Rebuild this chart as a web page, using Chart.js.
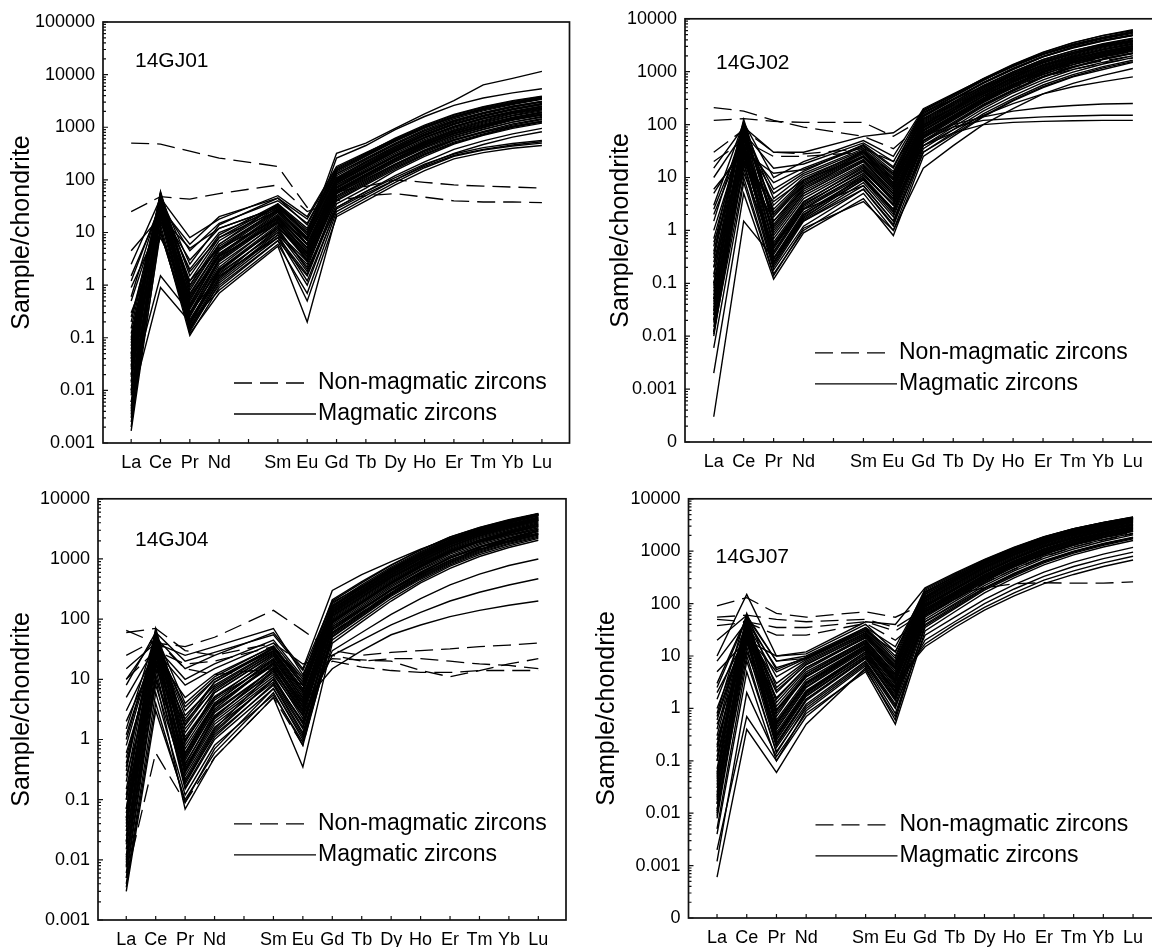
<!DOCTYPE html>
<html>
<head>
<meta charset="utf-8">
<script src="https://cdn.jsdelivr.net/npm/chart.js@4.4.0/dist/chart.umd.min.js"></script>
<style>
  html, body { margin: 0; padding: 0; background: #fff; width: 1152px; height: 947px; overflow: hidden; position: relative; }
  canvas { position: absolute; }
</style>
</head>
<body>
<canvas id="c1" width="580" height="478" style="left:0;top:0"></canvas>
<canvas id="c2" width="600" height="478" style="left:580px;top:0"></canvas>
<canvas id="c3" width="580" height="467" style="left:0;top:480px"></canvas>
<canvas id="c4" width="600" height="467" style="left:580px;top:480px"></canvas>
<script>
// REE order (Pm skipped, so x = atomic number)
const ree = ["La", "Ce", "Pr", "Nd", "Sm", "Eu", "Gd", "Tb", "Dy", "Ho", "Er", "Tm", "Yb", "Lu"];
const reePos = [57, 58, 59, 60, 62, 63, 64, 65, 66, 67, 68, 69, 70, 71];
const xTickPos = [57, 58, 59, 60, 61, 62, 63, 64, 65, 66, 67, 68, 69, 70, 71];

const sampleNames = ["14GJ01", "14GJ02", "14GJ04", "14GJ07"];
const legendLabels = ["Non-magmatic zircons", "Magmatic zircons"];
const yTitle = "Sample/chondrite";

const yTicksA = [0.001, 0.01, 0.1, 1, 10, 100, 1000, 10000, 100000];
const yLabelsA = ["0.001", "0.01", "0.1", "1", "10", "100", "1000", "10000", "100000"];
const yTicksB = [0.0001, 0.001, 0.01, 0.1, 1, 10, 100, 1000, 10000];
const yLabelsB = ["0", "0.001", "0.01", "0.1", "1", "10", "100", "1000", "10000"];
const yTicksC = [0.001, 0.01, 0.1, 1, 10, 100, 1000, 10000];
const yLabelsC = ["0.001", "0.01", "0.1", "1", "10", "100", "1000", "10000"];

// 14GJ01
const gj01Magmatic = [
  [0.002, 25, 0.15, 1.2, 9, 2.5, 45, 90, 180, 330, 560, 800, 1100, 1400],
  [0.0017, 12, 0.11, 0.9, 7, 1.5, 35, 70, 150, 280, 480, 700, 950, 1200],
  [0.005, 40, 0.2, 2.0, 14, 4, 60, 120, 240, 430, 700, 1000, 1400, 1700],
  [0.01, 50, 0.3, 3, 18, 5, 75, 150, 300, 550, 900, 1300, 1800, 2200],
  [0.02, 30, 0.25, 2.5, 15, 3.5, 65, 130, 260, 470, 780, 1100, 1500, 1900],
  [0.008, 20, 0.18, 1.6, 11, 2.2, 50, 100, 200, 370, 620, 900, 1250, 1550],
  [0.03, 55, 0.4, 4, 22, 6, 90, 180, 360, 650, 1050, 1500, 2000, 2500],
  [0.05, 45, 0.5, 4.5, 25, 7, 100, 200, 400, 720, 1150, 1650, 2200, 2800],
  [0.004, 18, 0.14, 1.3, 10, 1.8, 40, 80, 160, 300, 500, 720, 1000, 1250],
  [0.015, 35, 0.35, 3.2, 20, 4.5, 80, 160, 320, 580, 950, 1350, 1850, 2300],
  [0.06, 60, 0.8, 6, 30, 9, 120, 240, 470, 850, 1350, 1900, 2500, 3100],
  [0.08, 40, 1.0, 7, 32, 10, 130, 260, 500, 900, 1450, 2050, 2700, 3400],
  [0.1, 50, 1.5, 9, 35, 12, 150, 300, 560, 1000, 1600, 2300, 3000, 3700],
  [0.25, 30, 2, 10, 28, 8, 110, 220, 430, 780, 1250, 1800, 2400, 3000],
  [0.5, 25, 3, 12, 30, 6, 95, 190, 380, 700, 1150, 1650, 2200, 2700],
  [1.2, 35, 4.5, 15, 40, 15, 160, 310, 580, 1000, 1600, 2200, 2900, 3600],
  [2.5, 45, 8, 18, 50, 20, 180, 330, 600, 1050, 1700, 2400, 3100, 3800],
  [4.5, 20, 5, 12, 30, 10, 130, 250, 480, 850, 1350, 1900, 2500, 3100],
  [0.9, 15, 1.2, 5, 18, 4, 70, 140, 280, 500, 820, 1150, 1550, 1950],
  [0.3, 8, 0.6, 3.5, 15, 3, 55, 110, 220, 400, 650, 920, 1250, 1600],
  [0.012, 1.5, 0.3, 1.5, 8, 1, 30, 60, 120, 220, 380, 550, 750, 950],
  [0.006, 0.9, 0.2, 0.8, 6, 0.7, 25, 50, 100, 190, 320, 470, 650, 820],
  [0.04, 10, 0.15, 1.0, 7, 0.5, 20, 40, 80, 150, 250, 330, 400, 450],
  [0.003, 28, 0.12, 0.7, 5.5, 0.2, 22, 45, 90, 170, 280, 370, 440, 500],
  [0.02, 38, 0.3, 2, 12, 2, 30, 60, 110, 200, 310, 410, 490, 560],
  [0.01, 22, 0.2, 1.4, 9, 1.2, 28, 55, 100, 180, 290, 380, 460, 530],
  [0.05, 50, 0.7, 5, 28, 7, 260, 450, 900, 1600, 2600, 3600, 4500, 5400],
  [0.15, 55, 1, 6, 35, 9, 320, 500, 950, 1800, 3200, 6400, 8500, 11500],
  [0.07, 42, 0.45, 3.8, 24, 6, 85, 170, 340, 620, 1000, 1450, 1950, 2450],
  [0.025, 32, 0.28, 2.8, 17, 4.2, 70, 140, 280, 510, 840, 1200, 1650, 2050],
  [0.009, 24, 0.17, 1.8, 13, 3, 58, 115, 230, 420, 690, 980, 1350, 1700],
  [0.0035, 14, 0.13, 1.1, 8, 1.6, 42, 85, 170, 310, 520, 750, 1020, 1300],
  [0.2, 48, 2.5, 14, 45, 18, 170, 320, 620, 1100, 1750, 2450, 3200, 3900],
  [0.035, 26, 0.6, 4, 20, 5, 80, 150, 280, 480, 760, 1050, 1400, 1750],
  [0.6, 40, 1.8, 8, 26, 8, 100, 190, 360, 640, 1020, 1450, 1900, 2350],
  [0.018, 36, 0.22, 1.7, 10, 2.8, 48, 95, 190, 350, 580, 830, 1150, 1450],
  [1.5, 30, 6, 20, 45, 14, 150, 290, 550, 980, 1550, 2150, 2800, 3500],
  [0.0025, 10, 0.16, 1.4, 12, 3.8, 62, 125, 250, 450, 740, 1050, 1450, 1800],
  [0.045, 52, 0.9, 5.5, 27, 8, 105, 210, 410, 740, 1200, 1700, 2250, 2850],
  [0.12, 44, 0.55, 3.5, 16, 2.8, 55, 105, 200, 360, 580, 800, 1050, 1300],
  [0.006, 33, 0.26, 2.2, 16, 4, 72, 145, 290, 530, 870, 1250, 1700, 2150],
  [0.014, 46, 0.38, 3, 19, 5.2, 88, 175, 350, 630, 1030, 1480, 2000, 2500],
  [0.028, 58, 0.65, 4.8, 26, 7.5, 110, 225, 440, 800, 1300, 1850, 2450, 3050],
  [0.0045, 27, 0.19, 1.9, 13, 3.3, 62, 125, 250, 460, 760, 1090, 1500, 1880],
  [0.09, 36, 1.2, 8, 33, 11, 140, 280, 540, 960, 1550, 2200, 2900, 3600],
  [0.04, 49, 0.42, 3.6, 21, 5.8, 95, 190, 380, 690, 1120, 1600, 2150, 2700]
];
const gj01NonMagmatic = [
  [500, 480, 350, 260, 180, 30, 60, 75, 100, 90, 80, 76, 73, 70],
  [25, 48, 43, 55, 80, 25, 40, 50, 55, 47, 40, 38, 38, 37]
];

// 14GJ02
const gj02Magmatic = [
  [0.0003, 1.5, 0.3, 1.5, 6, 1.2, 40, 90, 200, 400, 700, 1100, 1500, 2000],
  [0.002, 5, 0.12, 0.9, 4, 0.8, 25, 60, 140, 280, 500, 800, 1100, 1500],
  [0.01, 20, 0.2, 1.5, 7, 1.5, 45, 100, 220, 430, 780, 1200, 1700, 2200],
  [0.02, 40, 0.3, 2.2, 10, 2.5, 60, 130, 280, 540, 950, 1450, 2000, 2600],
  [0.05, 60, 0.5, 3, 14, 3.5, 75, 160, 340, 650, 1100, 1650, 2300, 3000],
  [0.1, 80, 0.8, 4.5, 18, 5, 90, 190, 400, 760, 1300, 1900, 2600, 3300],
  [0.2, 100, 1.2, 6, 22, 6, 110, 230, 470, 880, 1500, 2200, 3000, 3800],
  [0.5, 125, 2, 8, 28, 8, 130, 270, 550, 1000, 1700, 2500, 3300, 4200],
  [1, 60, 3, 10, 30, 9, 140, 290, 600, 1100, 1900, 2800, 3800, 4800],
  [2, 50, 5, 12, 35, 12, 160, 330, 680, 1300, 2200, 3300, 4500, 5800],
  [5, 40, 8, 15, 40, 15, 180, 360, 720, 1350, 2300, 3500, 4800, 6000],
  [10, 70, 15, 18, 45, 20, 190, 370, 700, 1250, 2100, 3100, 4200, 5300],
  [0.03, 30, 0.25, 1.8, 9, 2, 50, 110, 240, 460, 820, 1250, 1750, 2300],
  [0.015, 15, 0.18, 1.2, 6, 1.3, 35, 80, 180, 350, 630, 980, 1400, 1850],
  [0.08, 45, 0.6, 3.5, 15, 4, 80, 170, 350, 670, 1150, 1700, 2350, 3000],
  [0.3, 90, 1.5, 7, 25, 7, 120, 250, 500, 950, 1600, 2350, 3200, 4000],
  [0.04, 35, 0.4, 2.8, 12, 3, 65, 140, 300, 570, 1000, 1500, 2100, 2700],
  [0.012, 10, 0.15, 1, 5, 1, 30, 70, 160, 310, 560, 880, 1250, 1650],
  [0.7, 70, 2.5, 9, 32, 10, 150, 300, 620, 1150, 1950, 2900, 3900, 4900],
  [3, 110, 10, 20, 50, 25, 200, 380, 720, 1300, 2150, 3200, 4300, 5500],
  [15, 90, 30, 30, 60, 70, 170, 300, 520, 850, 1300, 1800, 2300, 2800],
  [0.025, 25, 0.35, 2.5, 11, 3, 40, 80, 150, 250, 380, 520, 650, 800],
  [0.05, 30, 1, 5, 20, 5, 60, 100, 140, 180, 210, 230, 245, 250],
  [0.1, 20, 1.5, 6, 25, 6, 40, 70, 100, 110, 115, 118, 120, 120],
  [0.2, 35, 2, 7, 30, 8, 50, 90, 120, 130, 140, 145, 150, 150],
  [0.006, 8, 0.14, 1.1, 3.5, 1, 15, 40, 100, 200, 380, 600, 850, 1150],
  [0.15, 55, 0.9, 5, 20, 5.5, 100, 210, 440, 840, 1450, 2150, 2950, 3700],
  [0.4, 75, 1.8, 7.5, 26, 7.5, 115, 240, 490, 920, 1550, 2300, 3100, 3900],
  [0.035, 28, 0.28, 2, 10, 2.2, 55, 120, 260, 500, 880, 1350, 1900, 2450],
  [0.018, 18, 0.22, 1.6, 8, 1.8, 48, 105, 230, 450, 800, 1230, 1720, 2250],
  [1.5, 95, 4, 11, 33, 11, 145, 300, 610, 1120, 1900, 2850, 3850, 4900],
  [0.09, 65, 0.55, 3.2, 13, 3.8, 70, 150, 320, 620, 1080, 1600, 2200, 2850],
  [0.25, 40, 1.1, 5.5, 21, 6.5, 105, 220, 450, 860, 1480, 2200, 3000, 3800],
  [0.045, 22, 0.45, 3, 14, 4, 85, 180, 370, 700, 1200, 1780, 2450, 3150],
  [6, 30, 12, 14, 38, 13, 170, 340, 690, 1280, 2150, 3250, 4400, 5600],
  [0.012, 45, 0.3, 2, 9, 2.5, 58, 125, 270, 520, 900, 1380, 1950, 2500],
  [0.6, 20, 3.5, 9, 25, 9, 95, 200, 410, 780, 1330, 1980, 2700, 3450],
  [0.07, 12, 0.5, 2.5, 7, 1.5, 30, 65, 145, 290, 520, 820, 1180, 1550],
  [2.5, 65, 6, 13, 42, 16, 185, 370, 740, 1380, 2350, 3550, 4850, 6200],
  [0.02, 38, 0.25, 1.9, 11, 3.2, 68, 145, 310, 590, 1030, 1560, 2180, 2800],
  [0.025, 55, 0.38, 2.6, 12, 3, 78, 165, 345, 660, 1140, 1720, 2380, 3080],
  [0.06, 85, 0.7, 4, 17, 4.8, 98, 205, 420, 800, 1380, 2060, 2820, 3600],
  [0.13, 105, 1.3, 6.5, 24, 6.8, 125, 260, 530, 990, 1680, 2480, 3380, 4300],
  [0.011, 32, 0.24, 1.7, 9.5, 2.3, 62, 135, 290, 560, 970, 1480, 2060, 2680],
  [0.35, 115, 2.2, 8.5, 30, 9.5, 148, 305, 620, 1150, 1950, 2900, 3950, 5000],
  [0.03, 70, 0.5, 3.4, 16, 4.4, 88, 185, 385, 730, 1250, 1880, 2580, 3320]
];
const gj02NonMagmatic = [
  [210, 180, 120, 90, 60, 35, 110, 200, 380, 650, 1000, 1400, 1800, 2200],
  [120, 130, 115, 110, 110, 60, 130, 230, 420, 700, 1100, 1500, 1900, 2400],
  [30, 80, 30, 28, 35, 20, 90, 170, 330, 580, 900, 1250, 1600, 2000],
  [20, 50, 25, 25, 30, 12, 70, 140, 280, 500, 800, 1100, 1450, 1800]
];

// 14GJ04
const gj04Magmatic = [
  [0.003, 3, 0.1, 0.6, 6, 0.8, 50, 110, 240, 460, 800, 1250, 1750, 2300],
  [0.005, 10, 0.07, 0.5, 5, 0.35, 40, 90, 200, 400, 700, 1100, 1550, 2050],
  [0.01, 20, 0.2, 1.2, 8, 1.2, 60, 130, 280, 540, 950, 1450, 2050, 2700],
  [0.02, 35, 0.3, 2, 11, 1.8, 80, 170, 360, 680, 1200, 1800, 2500, 3300],
  [0.05, 50, 0.5, 3, 15, 2.5, 100, 210, 440, 830, 1450, 2200, 3000, 4000],
  [0.1, 60, 0.8, 4.5, 20, 3.5, 120, 250, 520, 980, 1700, 2550, 3500, 4600],
  [0.3, 70, 1.5, 6, 25, 5, 140, 290, 600, 1100, 1900, 2850, 3900, 5200],
  [1, 45, 3, 10, 30, 7, 160, 330, 660, 1200, 2050, 3050, 4150, 5500],
  [3, 30, 8, 15, 40, 10, 200, 400, 780, 1400, 2300, 3300, 4400, 5600],
  [10, 50, 15, 25, 60, 15, 300, 550, 900, 1450, 2200, 3000, 3800, 4600],
  [15, 40, 25, 35, 70, 12, 150, 280, 500, 850, 1350, 1900, 2500, 3100],
  [0.008, 15, 0.15, 1, 7, 1, 55, 120, 260, 500, 870, 1350, 1900, 2500],
  [0.015, 25, 0.25, 1.6, 9, 1.5, 70, 150, 320, 610, 1070, 1620, 2250, 3000],
  [0.03, 40, 0.4, 2.5, 13, 2.2, 90, 190, 400, 760, 1330, 2000, 2750, 3650],
  [0.07, 55, 0.6, 3.8, 17, 3, 110, 230, 480, 900, 1570, 2370, 3250, 4300],
  [0.2, 65, 1.1, 5.2, 22, 4.2, 130, 270, 560, 1040, 1800, 2700, 3700, 4900],
  [0.5, 35, 2, 7, 27, 6, 150, 310, 630, 1150, 1980, 2950, 4050, 5350],
  [2, 25, 5, 12, 35, 8, 180, 370, 730, 1320, 2200, 3200, 4300, 5500],
  [0.004, 6, 0.12, 0.8, 5.5, 0.9, 45, 100, 220, 430, 760, 1180, 1650, 2200],
  [0.006, 12, 0.18, 1.3, 10, 2, 30, 60, 120, 220, 370, 560, 780, 1000],
  [0.04, 30, 0.35, 2.2, 12, 2.5, 25, 45, 80, 130, 200, 280, 370, 470],
  [0.1, 20, 1, 5, 18, 4, 15, 30, 55, 80, 110, 140, 170, 200],
  [0.012, 8, 0.22, 1.5, 14, 3, 65, 140, 300, 580, 1020, 1550, 2150, 2850],
  [0.025, 18, 0.3, 2.3, 16, 3.5, 85, 180, 380, 720, 1260, 1900, 2620, 3450],
  [0.06, 28, 0.45, 3.2, 19, 4, 95, 200, 420, 800, 1400, 2100, 2900, 3850],
  [0.15, 38, 0.7, 4, 21, 4.5, 105, 220, 460, 870, 1520, 2280, 3150, 4150],
  [0.4, 48, 1.3, 6.5, 28, 6.5, 135, 280, 580, 1080, 1850, 2780, 3800, 5000],
  [1.5, 55, 4, 11, 36, 9, 165, 340, 680, 1230, 2080, 3080, 4180, 5450],
  [0.009, 22, 0.16, 1.1, 8.5, 1.3, 58, 125, 270, 520, 900, 1400, 1950, 2600],
  [0.02, 45, 0.28, 1.8, 10, 1.6, 75, 160, 340, 650, 1130, 1720, 2380, 3150],
  [0.035, 60, 0.5, 3.5, 18, 3.2, 115, 240, 500, 940, 1640, 2460, 3380, 4450],
  [0.8, 42, 2.5, 8, 30, 7, 145, 300, 610, 1120, 1930, 2900, 3980, 5250],
  [5, 35, 10, 18, 45, 11, 210, 420, 800, 1420, 2320, 3350, 4500, 5700],
  [0.0035, 4, 0.09, 0.7, 7, 1.1, 52, 115, 250, 480, 840, 1300, 1820, 2400],
  [0.25, 15, 1.8, 9, 32, 8, 125, 260, 540, 1000, 1730, 2600, 3560, 4700],
  [0.07, 40, 0.9, 6, 26, 5.5, 95, 195, 400, 750, 1300, 1950, 2680, 3550],
  [8, 60, 20, 28, 55, 14, 190, 350, 640, 1100, 1800, 2600, 3450, 4400],
  [0.018, 32, 0.38, 2.8, 15, 2.8, 88, 185, 390, 740, 1290, 1950, 2700, 3550],
  [0.6, 25, 2.2, 9, 34, 9, 170, 350, 700, 1270, 2150, 3180, 4320, 5650],
  [0.05, 10, 0.6, 4, 22, 5, 75, 150, 300, 560, 960, 1440, 1980, 2600],
  [0.011, 38, 0.32, 2.4, 14, 2.6, 92, 195, 410, 780, 1360, 2060, 2830, 3750],
  [0.045, 52, 0.55, 3.6, 19, 3.6, 112, 235, 490, 920, 1600, 2420, 3320, 4380],
  [0.12, 62, 0.95, 4.8, 24, 4.8, 128, 265, 550, 1020, 1770, 2660, 3640, 4800],
  [0.35, 50, 1.7, 7.5, 29, 6.2, 148, 305, 620, 1140, 1960, 2930, 4020, 5300],
  [0.0075, 28, 0.2, 1.4, 10, 1.9, 68, 145, 310, 595, 1040, 1580, 2200, 2920],
  [1.2, 40, 3.5, 10, 33, 8, 158, 325, 650, 1190, 2030, 3020, 4120, 5420]
];
const gj04NonMagmatic = [
  [65, 40, 35, 50, 140, 65, 30, 25, 28, 30, 32, 35, 37, 40],
  [60, 70, 30, 25, 40, 18, 25, 20, 22, 22, 20, 18, 17, 15],
  [25, 45, 15, 12, 15, 8, 20, 16, 14, 13, 13, 14, 14, 14],
  [10, 30, 18, 20, 35, 10, 22, 21, 20, 14, 11, 14, 18, 22],
  [0.005, 0.6, 0.09, 0.5, 5, 0.8, 60, 130, 280, 550, 950, 1500, 2100, 2800]
];

// 14GJ07
const gj07Magmatic = [
  [0.0006, 0.4, 0.06, 0.5, 6, 0.6, 40, 90, 200, 380, 660, 1000, 1400, 1850],
  [0.0012, 2, 0.12, 0.8, 5, 0.5, 30, 70, 160, 310, 550, 850, 1200, 1600],
  [0.005, 8, 0.15, 1, 7, 1, 45, 100, 220, 420, 730, 1100, 1550, 2050],
  [0.01, 20, 0.2, 1.5, 9, 1.5, 55, 120, 260, 500, 860, 1300, 1800, 2400],
  [0.02, 35, 0.3, 2, 12, 2.2, 70, 150, 320, 600, 1020, 1520, 2100, 2750],
  [0.05, 50, 0.5, 3, 15, 3, 85, 180, 380, 700, 1180, 1750, 2400, 3100],
  [0.1, 60, 0.8, 4, 18, 4, 100, 210, 430, 790, 1320, 1950, 2650, 3400],
  [0.3, 45, 1.5, 6, 22, 5.5, 120, 250, 500, 900, 1500, 2200, 2950, 3800],
  [1, 30, 3, 8, 28, 7, 140, 290, 570, 1020, 1680, 2450, 3250, 4100],
  [3, 55, 8, 10, 35, 10, 180, 350, 660, 1150, 1850, 2650, 3500, 4400],
  [10, 150, 10, 12, 45, 40, 200, 380, 700, 1200, 1900, 2700, 3550, 4500],
  [20, 60, 8, 9, 30, 12, 150, 300, 580, 1030, 1700, 2480, 3300, 4200],
  [0.008, 15, 0.18, 1.2, 8, 1.2, 50, 110, 240, 460, 800, 1200, 1680, 2200],
  [0.015, 25, 0.25, 1.8, 10, 1.8, 60, 130, 280, 530, 900, 1360, 1880, 2480],
  [0.03, 40, 0.4, 2.5, 13, 2.5, 75, 160, 340, 630, 1070, 1600, 2200, 2850],
  [0.07, 55, 0.6, 3.5, 16, 3.5, 90, 190, 400, 730, 1230, 1820, 2480, 3200],
  [0.2, 40, 1.1, 5, 20, 4.5, 110, 230, 470, 850, 1410, 2080, 2800, 3600],
  [0.6, 35, 2, 7, 25, 6, 130, 270, 540, 960, 1590, 2320, 3100, 3950],
  [2, 25, 5, 9, 32, 8, 160, 320, 620, 1090, 1770, 2560, 3400, 4300],
  [0.004, 5, 0.1, 0.9, 6.5, 0.8, 35, 80, 180, 340, 600, 920, 1300, 1720],
  [0.012, 10, 0.14, 1.1, 7.5, 1.1, 25, 55, 120, 230, 400, 620, 880, 1180],
  [0.04, 18, 0.3, 2, 11, 2, 20, 45, 100, 190, 330, 510, 720, 960],
  [0.1, 30, 0.5, 3, 14, 2.8, 17, 40, 85, 160, 280, 420, 600, 800],
  [0.5, 12, 0.9, 4, 17, 3.2, 15, 35, 75, 140, 240, 360, 510, 680],
  [0.025, 22, 0.35, 2.2, 12, 2, 45, 95, 200, 370, 640, 980, 1380, 1820],
  [0.06, 48, 0.45, 2.8, 14, 3.2, 80, 170, 360, 660, 1120, 1670, 2300, 2980],
  [0.15, 58, 0.7, 4.5, 19, 4.2, 105, 220, 450, 820, 1370, 2020, 2740, 3520],
  [0.4, 50, 1.3, 5.5, 23, 5, 125, 260, 520, 930, 1550, 2270, 3050, 3880],
  [1.5, 42, 4, 8.5, 30, 7.5, 150, 305, 600, 1060, 1730, 2510, 3330, 4200],
  [5, 20, 10, 11, 40, 12, 190, 365, 680, 1170, 1880, 2690, 3540, 4450],
  [0.009, 28, 0.2, 1.4, 9, 1.4, 58, 125, 270, 510, 880, 1330, 1850, 2430],
  [0.018, 45, 0.28, 1.9, 11, 2.1, 68, 145, 310, 580, 990, 1490, 2060, 2700],
  [0.045, 30, 0.55, 3.2, 16, 3.8, 95, 200, 410, 750, 1270, 1880, 2560, 3300],
  [0.25, 20, 1.6, 6, 24, 5.8, 115, 240, 490, 880, 1470, 2160, 2920, 3750],
  [0.8, 65, 2.5, 7.5, 27, 6.5, 135, 280, 560, 990, 1630, 2380, 3180, 4050],
  [0.002, 0.7, 0.1, 0.7, 5.5, 0.7, 38, 85, 190, 360, 630, 960, 1350, 1780],
  [0.035, 12, 0.4, 2.6, 14, 1.6, 65, 140, 300, 560, 960, 1440, 2000, 2620],
  [0.12, 35, 0.9, 4.2, 18, 3.6, 88, 185, 390, 720, 1210, 1800, 2460, 3180],
  [8, 45, 6, 9, 35, 15, 170, 330, 630, 1100, 1790, 2590, 3430, 4330],
  [0.015, 40, 0.25, 1.7, 10, 2.4, 72, 155, 330, 610, 1040, 1560, 2150, 2800],
  [0.022, 32, 0.32, 2.1, 12, 2.6, 78, 165, 350, 650, 1100, 1640, 2260, 2930],
  [0.055, 52, 0.52, 3.1, 15, 3.4, 92, 195, 405, 740, 1250, 1850, 2520, 3250],
  [0.18, 46, 0.95, 4.6, 20, 4.6, 112, 235, 480, 865, 1440, 2120, 2860, 3670],
  [0.7, 38, 2.2, 6.8, 26, 6.2, 132, 275, 550, 975, 1610, 2350, 3140, 4000],
  [0.011, 22, 0.22, 1.5, 9.5, 1.6, 62, 135, 290, 545, 930, 1400, 1940, 2540],
  [2.5, 52, 5.5, 9.5, 33, 9, 165, 330, 640, 1120, 1810, 2610, 3460, 4360]
];
const gj07NonMagmatic = [
  [90, 130, 65, 55, 70, 55, 100, 150, 200, 240, 250, 245, 245, 260],
  [55, 60, 50, 45, 50, 35, 80, 150, 300, 550, 900, 1400, 1900, 2500],
  [50, 45, 35, 35, 45, 30, 70, 140, 280, 500, 850, 1300, 1800, 2300],
  [38, 44, 25, 25, 42, 20, 60, 120, 250, 450, 780, 1200, 1650, 2150]
];

const xMin = 56.04;
const xMax = 71.94;
const fontFamily = '"Liberation Sans", Arial, sans-serif';

const panels = [
  { id: "c1", name: sampleNames[0], mag: gj01Magmatic, non: gj01NonMagmatic, yTicks: yTicksA, yLabels: yLabelsA,
    pad: { top: 22, right: 10.5 }, axisW: 103, axisH: 35, titleDx: -81, nameDx: 32, nameDy: 39, legDx: 131, legDy: 361 },
  { id: "c2", name: sampleNames[1], mag: gj02Magmatic, non: gj02NonMagmatic, yTicks: yTicksB, yLabels: yLabelsB,
    pad: { top: 17, right: 19 }, axisW: 105, axisH: 36, titleDx: -64, nameDx: 31, nameDy: 44, legDx: 130, legDy: 334 },
  { id: "c3", name: sampleNames[2], mag: gj04Magmatic, non: gj04NonMagmatic, yTicks: yTicksC, yLabels: yLabelsC,
    pad: { top: 17, right: 14 }, axisW: 98, axisH: 27, titleDx: -76, nameDx: 37, nameDy: 41, legDx: 136, legDy: 325 },
  { id: "c4", name: sampleNames[3], mag: gj07Magmatic, non: gj07NonMagmatic, yTicks: yTicksB, yLabels: yLabelsB,
    pad: { top: 15, right: 19 }, axisW: 108.5, axisH: 29, titleDx: -81, nameDx: 27, nameDy: 58, legDx: 127, legDy: 326 }
];

function toPoints(series) {
  return series.map((v, i) => ({ x: reePos[i], y: v }));
}

function framePlugin(p) {
  return {
    id: "frame",
    afterDraw(chart) {
      const { ctx, chartArea: a, scales } = chart;
      const x = scales.x, y = scales.y;
      ctx.save();
      ctx.strokeStyle = "#111";
      ctx.lineWidth = 1.7;
      ctx.strokeRect(a.left, a.top, a.right - a.left, a.bottom - a.top);

      // inward ticks
      ctx.lineWidth = 1.2;
      ctx.beginPath();
      xTickPos.forEach(v => {
        const px = x.getPixelForValue(v);
        ctx.moveTo(px, a.bottom);
        ctx.lineTo(px, a.bottom - 4);
      });
      p.yTicks.forEach((d, i) => {
        const py = y.getPixelForValue(d);
        ctx.moveTo(a.left, py);
        ctx.lineTo(a.left + 5, py);
        if (i < p.yTicks.length - 1) {
          for (let k = 2; k < 10; k++) {
            const pm = y.getPixelForValue(d * k);
            ctx.moveTo(a.left, pm);
            ctx.lineTo(a.left + 3, pm);
          }
        }
      });
      ctx.stroke();

      ctx.fillStyle = "#000";

      // axis title
      ctx.save();
      ctx.translate(a.left + p.titleDx, (a.top + a.bottom) / 2);
      ctx.rotate(-Math.PI / 2);
      ctx.font = "25px " + fontFamily;
      ctx.textAlign = "center";
      ctx.textBaseline = "middle";
      ctx.fillText(yTitle, 0, 0);
      ctx.restore();

      // sample name
      ctx.font = "21px " + fontFamily;
      ctx.textAlign = "left";
      ctx.textBaseline = "middle";
      ctx.fillText(p.name, a.left + p.nameDx, a.top + p.nameDy);

      // legend
      const lx = a.left + p.legDx, dy = a.top + p.legDy, sy = dy + 31;
      ctx.strokeStyle = "#000";
      ctx.lineWidth = 1.3;
      ctx.setLineDash([18, 8]);
      ctx.beginPath();
      ctx.moveTo(lx, dy);
      ctx.lineTo(lx + 71, dy);
      ctx.stroke();
      ctx.setLineDash([]);
      ctx.beginPath();
      ctx.moveTo(lx, sy);
      ctx.lineTo(lx + 82, sy);
      ctx.stroke();
      ctx.font = "23px " + fontFamily;
      ctx.fillText(legendLabels[0], lx + 84, dy);
      ctx.fillText(legendLabels[1], lx + 84, sy);
      ctx.restore();
    }
  };
}

panels.forEach(p => {
  const datasets = [];
  p.mag.forEach(s => datasets.push({
    data: toPoints(s), borderColor: "#000", borderWidth: 1.4, pointRadius: 0, tension: 0, fill: false
  }));
  p.non.forEach(s => datasets.push({
    data: toPoints(s), borderColor: "#000", borderWidth: 1.3, borderDash: [18, 8], pointRadius: 0, tension: 0, fill: false
  }));

  new Chart(document.getElementById(p.id), {
    type: "line",
    data: { datasets },
    options: {
      responsive: false,
      animation: false,
      layout: { padding: { left: 0, top: p.pad.top, right: p.pad.right, bottom: 0 } },
      plugins: { legend: { display: false }, tooltip: { enabled: false } },
      scales: {
        x: {
          type: "linear",
          min: xMin,
          max: xMax,
          afterFit: s => { s.height = p.axisH; },
          afterBuildTicks: s => { s.ticks = xTickPos.map(v => ({ value: v })); },
          ticks: {
            autoSkip: false, maxRotation: 0, padding: 9, color: "#000",
            font: { family: fontFamily, size: 18 },
            callback: v => { const i = reePos.indexOf(v); return i < 0 ? "" : ree[i]; }
          },
          grid: { display: false, drawTicks: false, tickLength: 0 },
          border: { display: false }
        },
        y: {
          type: "logarithmic",
          min: p.yTicks[0],
          max: p.yTicks[p.yTicks.length - 1],
          afterFit: s => { s.width = p.axisW; },
          afterBuildTicks: s => { s.ticks = p.yTicks.map(v => ({ value: v })); },
          ticks: {
            autoSkip: false, padding: 8, color: "#000",
            font: { family: fontFamily, size: 18 },
            callback: (v, i) => p.yLabels[i]
          },
          grid: { display: false, drawTicks: false, tickLength: 0 },
          border: { display: false }
        }
      }
    },
    plugins: [framePlugin(p)]
  });
});
</script>
</body>
</html>
